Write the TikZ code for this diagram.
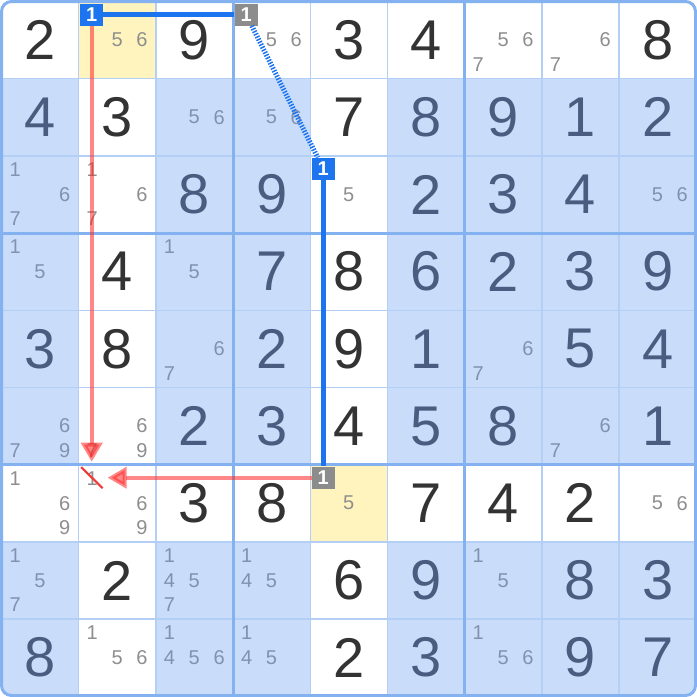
\documentclass[tikz,border=0pt]{standalone}
\usepackage{fontspec}
\setmainfont{Liberation Sans}
\usetikzlibrary{arrows.meta}
\definecolor{cellblue}{HTML}{C9DDFB}
\definecolor{cellyellow}{HTML}{FFF4BE}
\definecolor{thinline}{HTML}{B4CFF6}
\definecolor{boxline}{HTML}{84B2F1}
\definecolor{digitw}{HTML}{333333}
\definecolor{digitb}{HTML}{4A5D80}
\definecolor{candw}{HTML}{8E8E8E}
\definecolor{candb}{HTML}{8192AF}
\definecolor{mblue}{HTML}{1C74EE}
\definecolor{mgray}{HTML}{8C8C8C}
\definecolor{redarr}{HTML}{FF2626}
\definecolor{slashred}{HTML}{F03A3A}
\tikzset{
  given/.style={font=\fontsize{42}{42}\selectfont, inner sep=0pt},
  cand/.style={font=\fontsize{15}{15}\selectfont, inner sep=0pt},
  marker/.style={rectangle, minimum width=17.25pt, minimum height=16.5pt, inner sep=0pt,
    text=white, font=\bfseries\fontsize{15}{15}\selectfont},
  bluelink/.style={draw=mblue, line width=3.75pt},
  bluedash/.style={draw=mblue, line width=3.75pt, dash pattern=on 1.1pt off 1.1pt},
  redarrow/.style={draw=redarr, draw opacity=0.55, fill opacity=0.55, line width=3pt,
    -{Triangle[width=15.75pt, length=14.25pt, fill=redarr]}, shorten >=12pt},
  slash/.style={draw=slashred, line width=1.6pt},
}
\begin{document}
\begin{tikzpicture}[x=0.75pt,y=-0.75pt]
\useasboundingbox (0,0) rectangle (697,697);
% backgrounds
\begin{scope}
  \clip[rounded corners=7.5pt] (1.5,1.5) rectangle (695.5,695.5);
  \fill[white] (1.5,1.5) rectangle (695.5,695.5);
  \foreach \r in {2,3,4,5,6,8,9}{
    \foreach \c in {1,3,4,6,7,8,9}{
      \fill[cellblue] ({1.5+(\c-1)*77.2},{1.5+(\r-1)*77.2}) rectangle ++(77.2,77.2);
    }
  }
  \fill[cellyellow] ({1.5+1*77.2},1.5) rectangle ++(77.2,77.2);
  \fill[cellyellow] ({1.5+4*77.2},{1.5+6*77.2}) rectangle ++(77.2,77.2);
\end{scope}
% grid lines
\foreach \i in {1,2,4,5,7,8}{
  \draw[thinline, line width=1.1pt] ({1.5+\i*77.2},1.5) -- ({1.5+\i*77.2},695.5);
  \draw[thinline, line width=1.1pt] (1.5,{1.5+\i*77.2}) -- (695.5,{1.5+\i*77.2});
}
\foreach \i in {3,6}{
  \draw[boxline, line width=2.25pt] ({1.5+\i*77.2},1.5) -- ({1.5+\i*77.2},695.5);
  \draw[boxline, line width=2.25pt] (1.5,{1.5+\i*77.2}) -- (695.5,{1.5+\i*77.2});
}
\draw[boxline, line width=2.25pt, rounded corners=7.5pt] (1.5,1.5) rectangle (695.5,695.5);
% given digits
\foreach \r/\c/\d in {1/1/2,1/3/9,1/5/3,1/6/4,1/9/8,
  2/1/4,2/2/3,2/5/7,2/6/8,2/7/9,2/8/1,2/9/2,
  3/3/8,3/4/9,3/6/2,3/7/3,3/8/4,
  4/2/4,4/4/7,4/5/8,4/6/6,4/7/2,4/8/3,4/9/9,
  5/1/3,5/2/8,5/4/2,5/5/9,5/6/1,5/8/5,5/9/4,
  6/3/2,6/4/3,6/5/4,6/6/5,6/7/8,6/9/1,
  7/3/3,7/4/8,7/6/7,7/7/4,7/8/2,
  8/2/2,8/5/6,8/6/9,8/8/8,8/9/3,
  9/1/8,9/5/2,9/6/3,9/8/9,9/9/7}{
  \pgfmathtruncatemacro\isw{or(or(\r==1,\r==7),or(\c==2,\c==5))}
  \ifnum\isw=1 \def\tc{digitw}\else\def\tc{digitb}\fi
  \node[given, text=\tc] (g\r\c) at ({1.5+(\c-0.5)*77.2},{1.5+(\r-0.5)*77.2}) {\d};
}
% candidates
\foreach \r/\c/\n in {1/2/5,1/2/6,1/4/5,1/4/6,1/7/5,1/7/6,1/7/7,1/8/6,1/8/7,
  2/3/5,2/3/6,2/4/5,2/4/6,
  3/1/1,3/1/6,3/1/7,3/2/1,3/2/6,3/2/7,3/5/5,3/9/5,3/9/6,
  4/1/1,4/1/5,4/3/1,4/3/5,
  5/3/6,5/3/7,5/7/6,5/7/7,
  6/1/6,6/1/7,6/1/9,6/2/6,6/2/7,6/2/9,6/8/6,6/8/7,
  7/1/1,7/1/6,7/1/9,7/2/1,7/2/6,7/2/9,7/5/5,7/9/5,7/9/6,
  8/1/1,8/1/5,8/1/7,8/3/1,8/3/4,8/3/5,8/3/7,8/4/1,8/4/4,8/4/5,8/7/1,8/7/5,
  9/2/1,9/2/5,9/2/6,9/3/1,9/3/4,9/3/5,9/3/6,9/4/1,9/4/4,9/4/5,9/7/1,9/7/5,9/7/6}{
  \pgfmathtruncatemacro\isw{or(or(\r==1,\r==7),or(\c==2,\c==5))}
  \ifnum\isw=1 \def\tc{candw}\else\def\tc{candb}\fi
  \pgfmathtruncatemacro\kk{mod(\n-1,3)}
  \pgfmathtruncatemacro\jj{(\n-1)/3}
  \node[cand, text=\tc] (k\r\c\n) at ({1.5+(\c-1)*77.2+13.6+\kk*24.8},{1.5+(\r-1)*77.2+14+\jj*24.5}) {\n};
}
% markers
\node[marker, fill=mblue] (m12) at (91.7,14.5) {1};
\node[marker, fill=mgray] (m14) at (246.1,14.5) {1};
\node[marker, fill=mblue] (m35) at (323.3,168.9) {1};
\node[marker, fill=mgray] (m75) at (323.3,477.7) {1};
\coordinate (t72) at (91.7,477.7);
% links
\draw[bluelink] (m12) -- (m14);
\draw[bluedash] (m14) -- (m35);
\draw[bluelink] (m35) -- (m75);
\draw[redarrow] (m12) -- (t72);
\draw[redarrow] (m75) -- (t72);
\draw[slash] ([shift={(-10.5,-10.5)}]t72) -- ([shift={(11,10.5)}]t72);
\end{tikzpicture}
\end{document}
